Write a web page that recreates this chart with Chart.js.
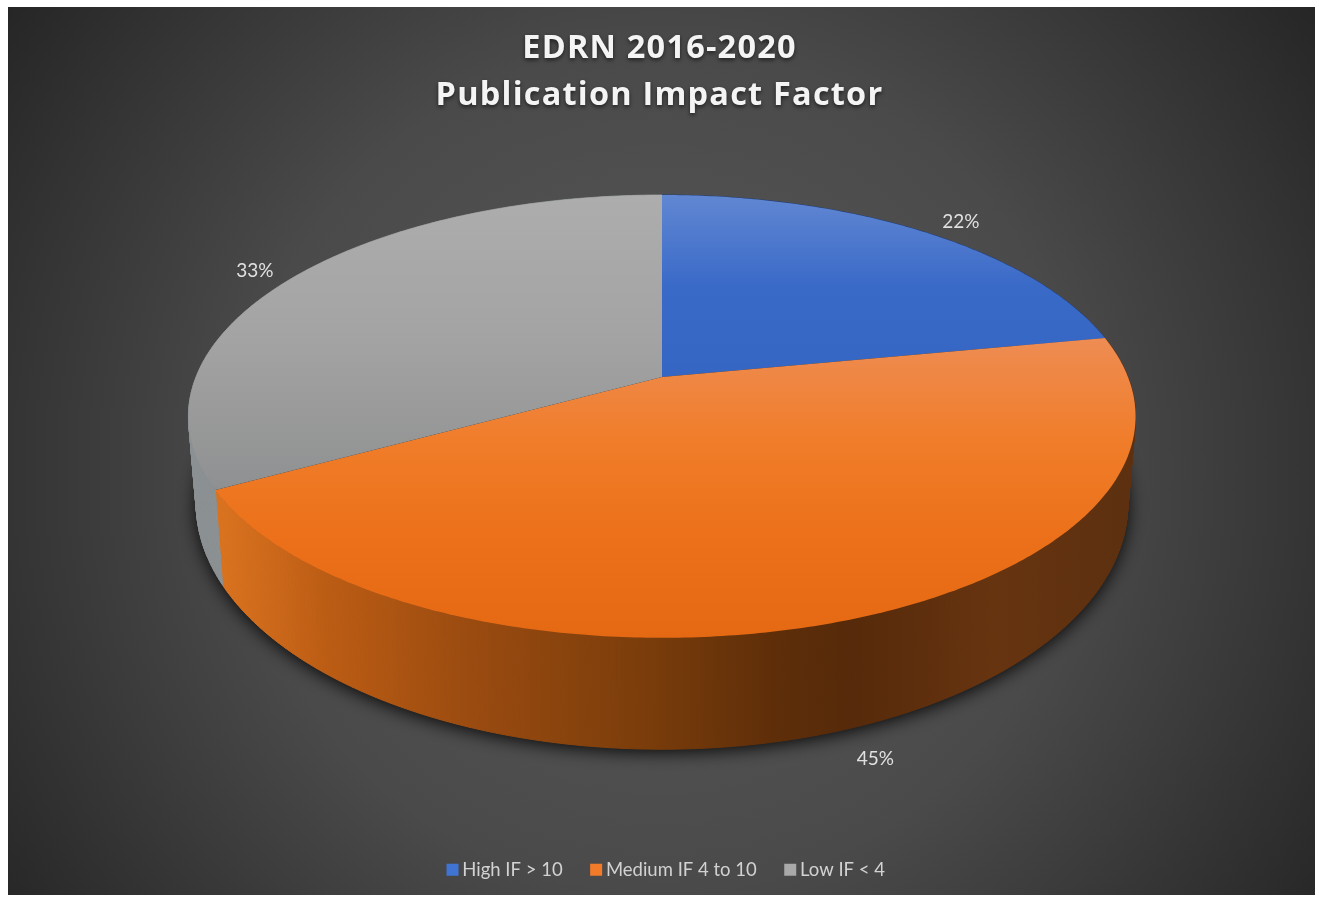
<!DOCTYPE html>
<html>
<head>
<meta charset="utf-8">
<title>EDRN Publication Impact Factor</title>
<script src="https://cdn.jsdelivr.net/npm/chart.js@4"></script>
<style>
  html, body { margin: 0; background: #fff; }
  canvas { display: block; }
</style>
</head>
<body>
<canvas id="myChart" width="1319" height="897"></canvas>
<script>
const categories = ["High IF > 10", "Medium IF 4 to 10", "Low IF < 4"];
const shares = [22, 45, 33];
const legendColors = ["#3f74d2", "#f27b2a", "#a9a9a9"];

// top face and bottom rim of the disc, seen in perspective
const topFace = { a: 466, b: 214.4, y0: 377 };
const bottomFace = { a: 458.4, b: 238, y0: 459.7 };
const centerX = 662;
const tilt = 0.178;

const labelShift = [[15, 3], [4, -3], [-6, 3]];

function project(face, angle, r) {
    const u = Math.cos(angle) * r;
    const v = Math.sin(angle) * r;
    const w = 1 - tilt * v;
    return { x: centerX + face.a * u / w, y: face.y0 + face.b * v / w };
}

function verticalFill(ctx, y1, y2, stops) {
    const g = ctx.createLinearGradient(0, y1, 0, y2);
    stops.forEach((c, i) => g.addColorStop(i / (stops.length - 1), c));
    return g;
}

function wallFill(ctx, stops) {
    const g = ctx.createLinearGradient(188, 0, 1136, 0);
    stops.forEach(s => g.addColorStop(s[0], s[1]));
    return g;
}

function drawWalls(ctx, arcs) {
    const fills = [
        "#23417d",
        wallFill(ctx, [[0, "#d9761f"], [0.04, "#d9721f"], [0.15, "#bb5c14"], [0.3, "#9a4b10"],
                       [0.48, "#7b3d0b"], [0.62, "#5e2e09"], [0.7, "#562a0a"], [0.85, "#673410"], [1, "#5c3010"]]),
        "#8c9194"
    ];

    // shadow under the disc
    ctx.save();
    ctx.shadowColor = "rgba(0,0,0,0.9)";
    ctx.shadowBlur = 18;
    ctx.shadowOffsetY = 3;
    ctx.fillStyle = "#222";
    ctx.beginPath();
    for (let i = 0; i <= 360; i++) {
        const p = project(bottomFace, i * Math.PI / 180, 1);
        i === 0 ? ctx.moveTo(p.x, p.y) : ctx.lineTo(p.x, p.y);
    }
    ctx.fill();
    ctx.restore();

    arcs.forEach((arc, i) => {
        const steps = Math.ceil((arc.endAngle - arc.startAngle) * 90);
        ctx.fillStyle = fills[i];
        ctx.strokeStyle = fills[i];
        ctx.lineWidth = 1;
        for (let s = 0; s < steps; s++) {
            const a1 = arc.startAngle + (arc.endAngle - arc.startAngle) * s / steps;
            const a2 = arc.startAngle + (arc.endAngle - arc.startAngle) * (s + 1) / steps;
            const p1 = project(topFace, a1, 1);
            const p2 = project(topFace, a2, 1);
            const p3 = project(bottomFace, a2, 1);
            const p4 = project(bottomFace, a1, 1);
            ctx.beginPath();
            ctx.moveTo(p1.x, p1.y);
            ctx.lineTo(p2.x, p2.y);
            ctx.lineTo(p3.x, p3.y);
            ctx.lineTo(p4.x, p4.y);
            ctx.closePath();
            ctx.fill();
            ctx.stroke();
        }
    });
}

function drawTops(ctx, arcs) {
    const fills = [
        verticalFill(ctx, 195, 375, ["#6187d2", "#3a6ac8", "#3566c3"]),
        verticalFill(ctx, 340, 640, ["#ee8c52", "#f07d2a", "#ec7019", "#e56813"]),
        verticalFill(ctx, 195, 490, ["#adadad", "#a3a3a3", "#8f9091"])
    ];
    arcs.forEach((arc, i) => {
        const steps = Math.ceil((arc.endAngle - arc.startAngle) * 90);
        ctx.fillStyle = fills[i];
        ctx.beginPath();
        ctx.moveTo(centerX, topFace.y0);
        for (let s = 0; s <= steps; s++) {
            const a = arc.startAngle + (arc.endAngle - arc.startAngle) * s / steps;
            const p = project(topFace, a, 1);
            ctx.lineTo(p.x, p.y);
        }
        ctx.closePath();
        ctx.fill();
    });
}

function drawLabels(ctx, arcs, values) {
    ctx.save();
    ctx.font = "19px Lato";
    ctx.fillStyle = "#e0e0e0";
    ctx.textAlign = "center";
    ctx.textBaseline = "middle";
    arcs.forEach((arc, i) => {
        const mid = (arc.startAngle + arc.endAngle) / 2;
        const face = Math.sin(mid) > 0 ? bottomFace : topFace;
        const p = project(face, mid, 1.1);
        ctx.fillText(values[i] + "%", p.x + labelShift[i][0], p.y + labelShift[i][1]);
    });
    ctx.restore();
}

const disc3d = {
    id: "disc3d",
    beforeDraw(chart) {
        const ctx = chart.ctx;
        const bg = ctx.createRadialGradient(662, 470, 40, 662, 470, 800);
        bg.addColorStop(0, "#585858");
        bg.addColorStop(0.5, "#4a4a4a");
        bg.addColorStop(0.78, "#363636");
        bg.addColorStop(1, "#262626");
        ctx.fillStyle = bg;
        ctx.fillRect(8, 7, 1307, 888);

        // letter spacing and drop shadow for the title, small nudge for the legend
        const box = chart.titleBlock;
        if (!box.spaced) {
            const drawTitle = box.draw.bind(box);
            box.draw = () => {
                ctx.save();
                ctx.letterSpacing = "1.2px";
                ctx.shadowColor = "rgba(0,0,0,0.6)";
                ctx.shadowBlur = 4;
                ctx.shadowOffsetY = 2;
                drawTitle();
                ctx.restore();
            };
            box.spaced = true;

            const legend = chart.legend;
            const drawLegend = legend.draw.bind(legend);
            legend.draw = () => {
                ctx.save();
                ctx.translate(9, 0);
                drawLegend();
                ctx.restore();
            };
        }
    },
    beforeDatasetsDraw(chart) {
        const arcs = chart.getDatasetMeta(0).data;
        drawWalls(chart.ctx, arcs);
        drawTops(chart.ctx, arcs);
        drawLabels(chart.ctx, arcs, chart.data.datasets[0].data);
        return false;
    }
};

let chart = new Chart("myChart", {
    type: "pie",
    data: {
        labels: categories,
        datasets: [{
            backgroundColor: legendColors,
            borderWidth: 0,
            data: shares
        }]
    },
    options: {
        responsive: false,
        animation: false,
        layout: { padding: { top: 15, bottom: 8 } },
        plugins: {
            title: {
                display: true,
                text: ["EDRN 2016-2020", "Publication Impact Factor"],
                color: "#f4f4f4",
                font: { family: "Open Sans", size: 32.5, weight: "bold", lineHeight: 1.45 }
            },
            legend: {
                position: "bottom",
                labels: {
                    color: "#d2d2d2",
                    font: { family: "Lato", size: 18.5 },
                    usePointStyle: true,
                    pointStyle: "rect",
                    boxWidth: 1,
                    boxHeight: 12,
                    padding: 33
                }
            },
            tooltip: { enabled: false }
        }
    },
    plugins: [disc3d]
});
</script>
</body>
</html>
